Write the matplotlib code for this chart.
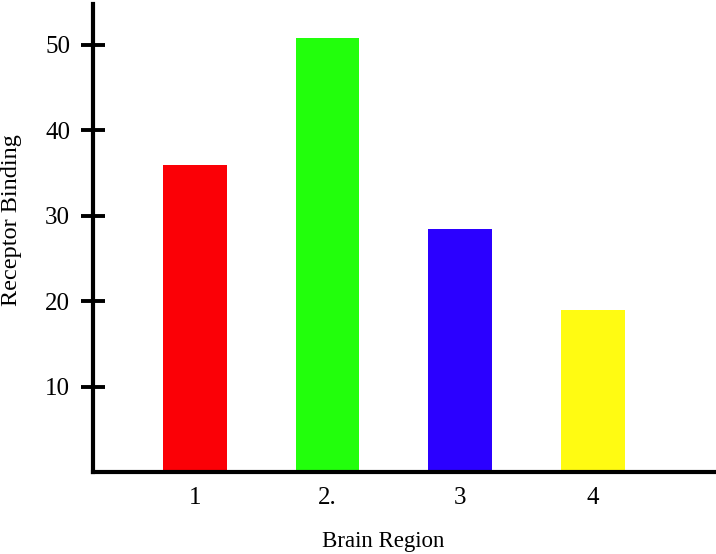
import matplotlib
matplotlib.use("Agg")
import matplotlib.pyplot as plt

regions = [1, 2, 3, 4]
tick_labels = ["1", "2.", "3", "4"]
binding = [35.9, 50.8, 28.4, 19.0]
colors = ["#fb0006", "#22ff0c", "#2b00ff", "#fffb12"]
yticks = [10, 20, 30, 40, 50]

plt.rcParams['font.family'] = ['Liberation Serif', 'DejaVu Serif']

fig = plt.figure(figsize=(7.16, 5.54), dpi=100)
W, H = 716, 554
left, right, top, bottom = 93, 716, 4, 472
ax = fig.add_axes([left / W, 1 - bottom / H, (right - left) / W, (bottom - top) / H])

ax.bar(regions, binding, width=0.48, color=colors, edgecolor='none')

ax.set_xlim(0.23, 4.93)
ax.set_ylim(0, 54.8)

for s in ['top', 'right']:
    ax.spines[s].set_visible(False)
for s in ['left', 'bottom']:
    ax.spines[s].set_linewidth(3.0)
    ax.spines[s].set_color('black')

ax.set_yticks(yticks)
ax.set_yticklabels([str(t) for t in yticks])
ax.tick_params(axis='y', direction='inout', length=17, width=2.8, pad=8,
               labelsize=18, colors='black')
ax.set_xticks(regions)
ax.set_xticklabels(tick_labels)
ax.tick_params(axis='x', length=0, pad=10.5, labelsize=18)

fig.text(12 / W, 1 - 220 / H, "Receptor Binding", rotation=90,
         ha='center', va='center', fontsize=17.5)
fig.text(383 / W, 1 - 541 / H, "Brain Region", ha='center', va='center',
         fontsize=16.5)

fig.savefig("out.png", dpi=100)
